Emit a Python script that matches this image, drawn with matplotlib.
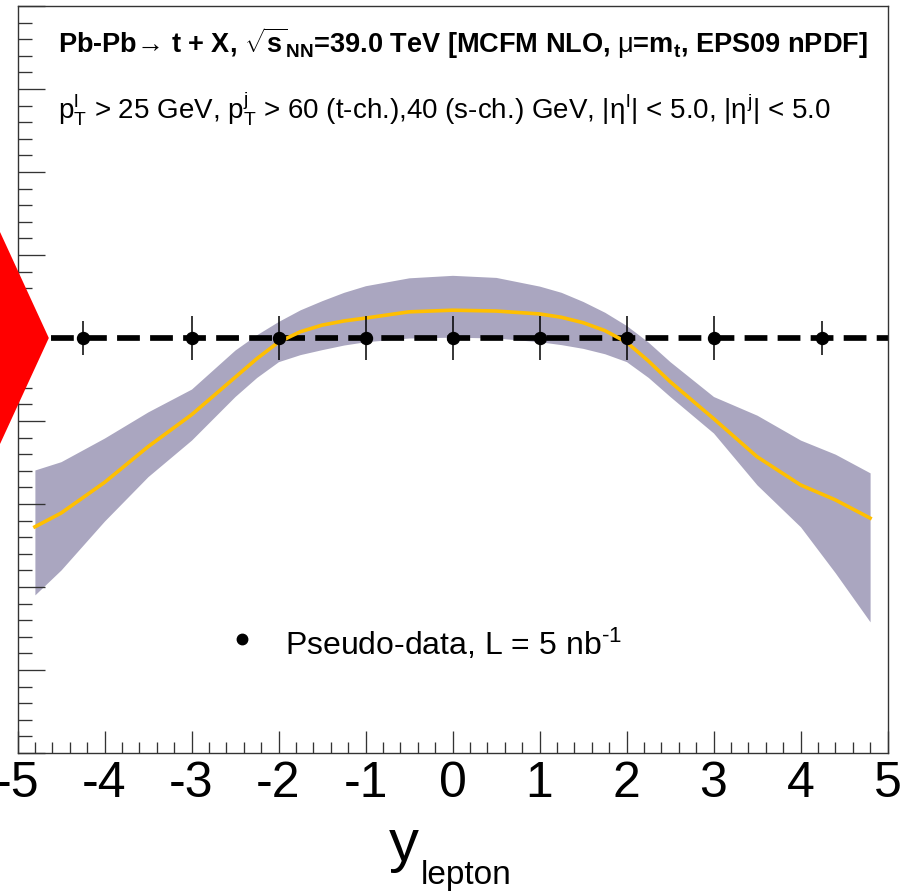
import matplotlib
matplotlib.use("Agg")
import matplotlib.pyplot as plt
from matplotlib.ticker import MultipleLocator
from matplotlib.patches import Polygon

plt.rcParams['font.family'] = ['Liberation Sans', 'DejaVu Sans']
plt.rcParams['mathtext.fontset'] = 'custom'
plt.rcParams['mathtext.rm'] = 'Liberation Sans'
plt.rcParams['mathtext.it'] = 'Liberation Sans'
plt.rcParams['mathtext.bf'] = 'Liberation Sans:bold'
plt.rcParams['axes.unicode_minus'] = False

# MCFM NLO ratio with EPS09 nPDF band
y_theory = [-4.8, -4.5, -4.0, -3.5, -3.0, -2.5, -2.25, -2.0, -1.75, -1.5, -1.25, -1.0,
            -0.5, 0.0, 0.5, 1.0, 1.25, 1.5, 1.75, 2.0, 2.25, 2.5, 3.0, 3.5, 4.0, 4.4, 4.8]
ratio_central = [0.545, 0.578, 0.652, 0.738, 0.815, 0.905, 0.95, 0.99, 1.015, 1.031, 1.041, 1.048,
                 1.063, 1.067, 1.065, 1.058, 1.05, 1.037, 1.018, 0.99, 0.945, 0.895, 0.806,
                 0.714, 0.646, 0.61, 0.566]
ratio_high = [0.682, 0.702, 0.759, 0.822, 0.877, 0.971, 1.008, 1.04, 1.068, 1.09, 1.11, 1.126,
              1.145, 1.151, 1.146, 1.125, 1.11, 1.088, 1.062, 1.03, 0.99, 0.943, 0.859,
              0.814, 0.754, 0.72, 0.675]
ratio_low = [0.381, 0.441, 0.559, 0.666, 0.754, 0.859, 0.905, 0.943, 0.96, 0.972, 0.983, 0.991,
             1.0, 1.002, 1.0, 0.991, 0.984, 0.975, 0.962, 0.943, 0.905, 0.859, 0.771,
             0.646, 0.545, 0.434, 0.316]

# pseudo-data
y_data = [-4.25, -3, -2, -1, 0, 1, 2, 3, 4.25]
ratio_data = [1.0, 1.0, 1.0, 1.0, 1.0, 1.0, 1.0, 1.0, 1.0]
err_data = [0.042, 0.052, 0.052, 0.052, 0.052, 0.052, 0.052, 0.052, 0.042]

# normalisation uncertainty
norm_center = 1.0
norm_unc = 0.255

fig = plt.figure(figsize=(9, 8.93), dpi=100)
ax = fig.add_axes([17.5/900, 140/893, 870/900, 747/893])

ax.fill_between(y_theory, ratio_low, ratio_high, color='#aaa6c0', lw=0, zorder=1)
ax.axhline(norm_center, color='k', lw=4.1, dashes=(4, 1.8), zorder=2)
ax.plot(y_theory, ratio_central, color='#ffbf00', lw=2.6, zorder=3)
ax.errorbar(y_data, ratio_data, yerr=err_data, fmt='o', color='k', ms=8.6,
            elinewidth=1.1, capsize=0, zorder=4)

tri = Polygon([(-5.8, norm_center), (-5.2, norm_center + norm_unc),
               (-4.64, norm_center), (-5.2, norm_center - norm_unc)],
              closed=True, color='red', lw=0, clip_on=False, zorder=5)
ax.add_patch(tri)

ax.set_xlim(-5, 5)
ax.set_ylim(0, 1.8)
ax.xaxis.set_major_locator(MultipleLocator(1))
ax.xaxis.set_minor_locator(MultipleLocator(0.2))
ax.yaxis.set_major_locator(MultipleLocator(0.2))
ax.yaxis.set_minor_locator(MultipleLocator(0.04))
ax.tick_params(which='both', direction='in', top=False, right=False,
               color='#333333', width=0.95)
ax.tick_params(axis='x', which='major', length=15.8, labelsize=36, pad=5.5)
ax.tick_params(axis='x', which='minor', length=7.6)
ax.tick_params(axis='y', which='major', length=19.4, labelleft=False)
ax.tick_params(axis='y', which='minor', length=10)
for s in ax.spines.values():
    s.set_color('#333333')
    s.set_linewidth(1.0)

# axis title: big "y" with small "lepton" subscript
fig.text(389/900, 1 - 861/893, 'y', fontsize=43, va='baseline')
fig.text(421/900, 1 - 884/893, 'lepton', fontsize=24, va='baseline')

title = (r'Pb-Pb→ t + X, $\sqrt{\mathbf{s}}_{\mathbf{NN}}$=39.0 TeV '
         r'[MCFM NLO, $\mu$=m$_{\mathbf{t}}$, EPS09 nPDF]')
ax.text(-4.534, 1.687, title, fontsize=19.5, fontweight='bold', va='baseline')
cuts = (r'p$_{\mathrm{T}}^{\mathrm{l}}$ > 25 GeV, p$_{\mathrm{T}}^{\mathrm{j}}$ > 60 (t-ch.),'
        r'40 (s-ch.) GeV, |$\eta^{\mathrm{l}}$| < 5.0, |$\eta^{\mathrm{j}}$| < 5.0')
ax.text(-4.534, 1.530, cuts, fontsize=20, va='baseline')

# legend
ax.plot([-2.42], [0.2747], 'o', color='k', ms=7.5)
ax.text(-1.925, 0.236, r'Pseudo-data, L = 5 nb$^{\text{-1}}$', fontsize=23, va='baseline')

fig.savefig('out.png', dpi=100)
